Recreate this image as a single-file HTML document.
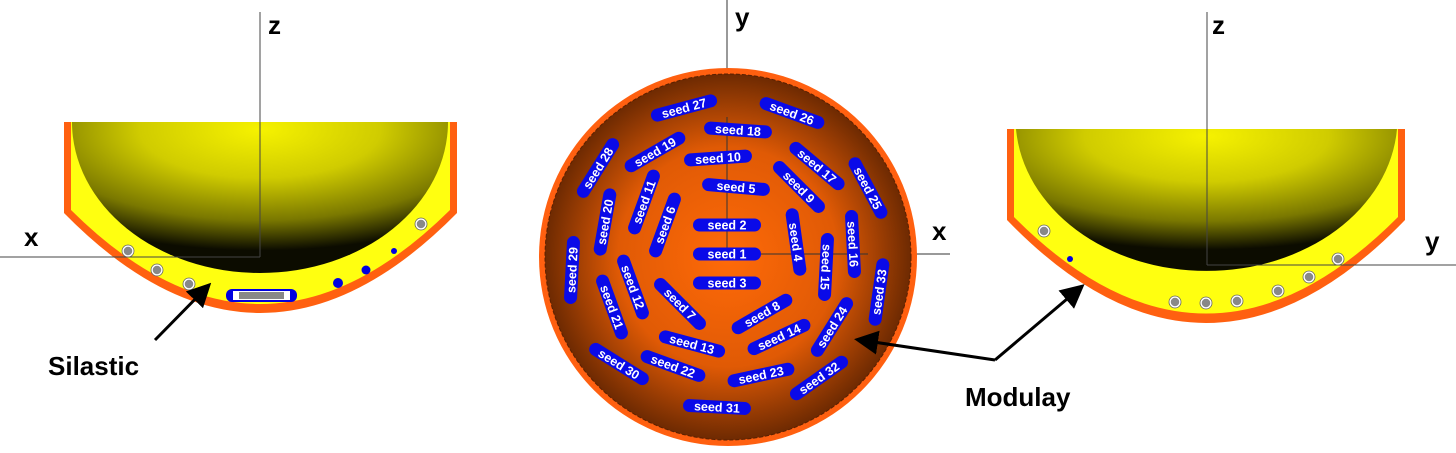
<!DOCTYPE html>
<html><head><meta charset="utf-8"><style>
html,body{margin:0;padding:0;background:#fff;}
svg{display:block;font-family:"Liberation Sans",sans-serif;}
</style></head><body>
<svg id="fig" width="1456" height="453" viewBox="0 0 1456 453">
<defs>
<radialGradient id="bowlG" cx="0.5" cy="0.05" r="0.8">
<stop offset="0" stop-color="#f6f200"/><stop offset="0.4" stop-color="#d0cc00"/><stop offset="0.75" stop-color="#7a7800"/><stop offset="1" stop-color="#0c0c00"/>
</radialGradient>
<radialGradient id="discG" cx="0.5" cy="0.5" r="0.5">
<stop offset="0" stop-color="#ff6a08"/><stop offset="0.6" stop-color="#e05a05"/><stop offset="1" stop-color="#6e2a02"/>
</radialGradient>
<marker id="ah" markerWidth="8" markerHeight="8" refX="6" refY="4" orient="auto"><path d="M0,0 L8,4 L0,8 Z" fill="#000"/></marker>
</defs>

<!-- left view -->
<g>
<path d="M64,122 L64,213 Q260,413 457,213 L457,122 Z" fill="#ff6010"/>
<path d="M71,122 L71,210 Q260,398 450,210 L450,122 Z" fill="#ffff10"/>
<path d="M72,122 A188,151 0 0 0 448,122 Z" fill="url(#bowlG)"/>
<line x1="260" y1="12" x2="260" y2="257" stroke="#444" stroke-width="1"/>
<line x1="0" y1="257" x2="260" y2="257" stroke="#444" stroke-width="1"/>
<text x="268" y="34" font-size="26" font-weight="bold">z</text>
<text x="24" y="246" font-size="26" font-weight="bold">x</text>
<g fill="#888" stroke="#fff" stroke-width="1.5">
<circle cx="128" cy="251" r="5"/><circle cx="157" cy="270" r="5"/><circle cx="189" cy="284" r="5"/><circle cx="421" cy="224" r="5"/>
</g>
<g fill="none" stroke="#666" stroke-width="0.8">
<circle cx="128" cy="251" r="6"/><circle cx="157" cy="270" r="6"/><circle cx="189" cy="284" r="6"/><circle cx="421" cy="224" r="6"/>
</g>
<g fill="#0000e0"><circle cx="338" cy="283" r="5"/><circle cx="366" cy="270" r="4.5"/><circle cx="394" cy="251" r="3"/></g>
<rect x="226" y="289" width="71" height="13" rx="6" fill="#0000e0"/>
<rect x="233" y="291" width="57" height="9" fill="#fff"/>
<rect x="239" y="292" width="45" height="7" fill="#888"/>
<text x="48" y="375" font-size="26" font-weight="bold">Silastic</text>
<line x1="155" y1="340" x2="207" y2="287" stroke="#000" stroke-width="3" marker-end="url(#ah)"/>
</g>

<!-- center view -->
<g>
<line x1="727" y1="0" x2="727" y2="256" stroke="#333" stroke-width="1"/>
<line x1="727" y1="254" x2="950" y2="254" stroke="#333" stroke-width="1"/>
<circle cx="728" cy="257" r="189" fill="#ff6010"/>
<circle cx="728" cy="257" r="183" fill="url(#discG)" stroke="#5a2000" stroke-width="1" stroke-dasharray="4 2"/>
<line x1="727" y1="117" x2="727" y2="254" stroke="#333" stroke-width="1"/>
<line x1="727" y1="254" x2="868" y2="254" stroke="#333" stroke-width="1"/>
<text x="735" y="26" font-size="26" font-weight="bold">y</text>
<text x="932" y="240" font-size="26" font-weight="bold">x</text>
<g id="seeds"></g>
</g>

<!-- right view -->
<g>
<path d="M1007,129 L1007,220 Q1206,426 1405,220 L1405,129 Z" fill="#ff6010"/>
<path d="M1014,129 L1014,217 Q1206,410 1398,217 L1398,129 Z" fill="#ffff10"/>
<path d="M1016,129 A191,153 0 0 0 1397,129 Z" fill="url(#bowlG)"/>
<line x1="1207" y1="12" x2="1207" y2="265" stroke="#444" stroke-width="1"/>
<line x1="1207" y1="265" x2="1456" y2="265" stroke="#444" stroke-width="1"/>
<text x="1212" y="34" font-size="26" font-weight="bold">z</text>
<text x="1425" y="250" font-size="26" font-weight="bold">y</text>
<g fill="#888" stroke="#fff" stroke-width="1.5">
<circle cx="1044" cy="231" r="5"/><circle cx="1175" cy="302" r="5"/><circle cx="1206" cy="303" r="5"/><circle cx="1237" cy="301" r="5"/><circle cx="1278" cy="291" r="5"/><circle cx="1309" cy="277" r="5"/><circle cx="1338" cy="259" r="5"/>
</g>
<g fill="none" stroke="#666" stroke-width="0.8">
<circle cx="1044" cy="231" r="6"/><circle cx="1175" cy="302" r="6"/><circle cx="1206" cy="303" r="6"/><circle cx="1237" cy="301" r="6"/><circle cx="1278" cy="291" r="6"/><circle cx="1309" cy="277" r="6"/><circle cx="1338" cy="259" r="6"/>
</g>
<circle cx="1070" cy="259" r="3" fill="#0000e0"/>
<text x="965" y="406" font-size="26" font-weight="bold">Modulay</text>
<line x1="995" y1="360" x2="860" y2="340" stroke="#000" stroke-width="3" marker-end="url(#ah)"/>
<line x1="995" y1="360" x2="1080" y2="288" stroke="#000" stroke-width="3" marker-end="url(#ah)"/>
</g>
</svg>
<script>
const seedIds=[27,26,18,19,10,17,28,25,5,9,11,20,6,2,4,16,1,29,15,33,12,3,21,7,8,24,14,13,30,22,23,32,31];
const seedX=[684,792,738,655,718,817,598,868,736,799,644,605,665,727,796,853,727,572,826,879,633,727,612,680,762,832,779,692,619,673,761,819,717];
const seedY=[108,113,130,152,158,166,168,188,187,187,202,222,225,225,242,244,254,270,267,292,287,283,307,304,314,327,337,344,364,366,375,378,407];
const seedAngle=[-15,20,4,-30,-4,40,-58,62,5,45,-70,-80,-70,0,82,87,0,-87,93,-82,70,0,70,45,-30,-58,-25,15,32,20,-12,-35,3];
const g=document.getElementById('seeds');
const NS='http://www.w3.org/2000/svg';
seedIds.forEach((id,i)=>{
  const grp=document.createElementNS(NS,'g');
  grp.setAttribute('transform',`translate(${seedX[i]},${seedY[i]}) rotate(${seedAngle[i]})`);
  
  
  const r=document.createElementNS(NS,'rect');
  r.setAttribute('x',-34);r.setAttribute('y',-6.5);r.setAttribute('width',68);r.setAttribute('height',13);
  r.setAttribute('rx',6.5);r.setAttribute('fill','#0a0ae8');
  grp.appendChild(r);
  const t=document.createElementNS(NS,'text');
  t.setAttribute('x',0);t.setAttribute('y',4.5);t.setAttribute('text-anchor','middle');
  t.setAttribute('font-size','12.5');t.setAttribute('font-weight','bold');t.setAttribute('fill','#fff');
  t.textContent='seed '+id;
  grp.appendChild(t);
  g.appendChild(grp);
});
</script>
</body></html>
